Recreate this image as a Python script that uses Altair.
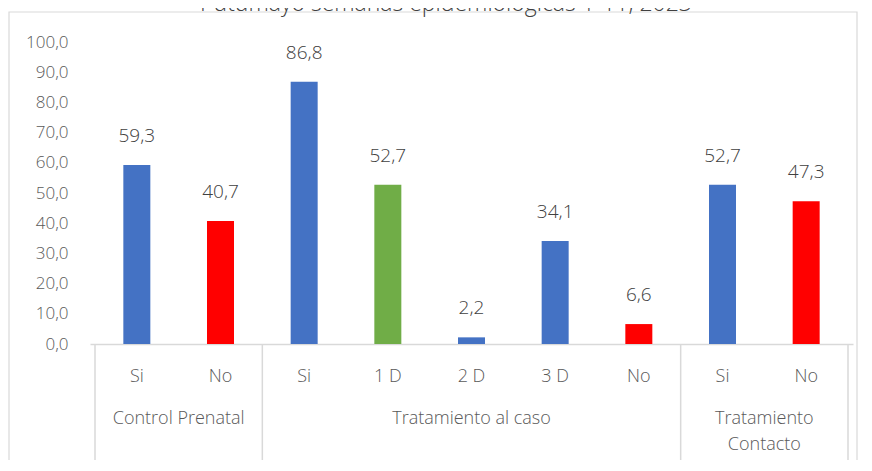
import altair as alt
import pandas as pd

title_text = "Putumayo semanas epidemiológicas 1-11, 2023"
groups = ["Control Prenatal", "Tratamiento al caso", "Tratamiento\nContacto"]
group_sizes = [2, 5, 2]
labels = ["Si", "No", "Si", "1 D", "2 D", "3 D", "No", "Si", "No"]
values = [59.3, 40.7, 86.8, 52.7, 2.2, 34.1, 6.6, 52.7, 47.3]
colors = ["#4472C4", "#FF0000", "#4472C4", "#70AD47", "#4472C4",
          "#4472C4", "#FF0000", "#4472C4", "#FF0000"]
y_ticks = [0, 10, 20, 30, 40, 50, 60, 70, 80, 90, 100]

FONT = "Open Sans"
W, H = 763, 302

n = len(labels)
bars = pd.DataFrame({
    "pos": [i + 0.5 for i in range(n)],
    "label": labels,
    "value": values,
    "color": colors,
})
bars["txt"] = [f"{v:.1f}".replace(".", ",") for v in values]

bounds = [0]
for s in group_sizes:
    bounds.append(bounds[-1] + s)
grp = pd.DataFrame({
    "center": [(bounds[i] + bounds[i + 1]) / 2 for i in range(len(groups))],
    "name": groups,
})
seps = pd.DataFrame({"b": bounds})

xs = alt.Scale(domain=[0, n], nice=False, zero=False)
ys = alt.Scale(domain=[0, 100], nice=False)
X_AX = alt.Axis(labels=False, ticks=False, grid=False, title=None,
                domainColor="#d9d9d9", domainWidth=1.5)
Y_AX = alt.Axis(values=y_ticks,
                labelExpr="replace(format(datum.value,'.1f'),'.',',')",
                labelOverlap=False, tickCount=11,
                domain=False, ticks=False, grid=False, title=None,
                labelColor="#595959", labelFontSize=17, labelFont=FONT,
                labelFontWeight=300, labelPadding=22)

base = alt.Chart(bars)

bar = base.mark_bar(size=27).encode(
    x=alt.X("pos:Q", scale=xs, axis=X_AX),
    y=alt.Y("value:Q", scale=ys, axis=Y_AX),
    color=alt.Color("color:N", scale=None),
)

vals = base.mark_text(baseline="middle", dy=-29, fontSize=19, font=FONT,
                      fontWeight=300, color="#404040").encode(
    x=alt.X("pos:Q", scale=xs, axis=X_AX),
    y=alt.Y("value:Q", scale=ys, axis=Y_AX), text="txt:N")

cats = base.mark_text(baseline="middle", fontSize=18, font=FONT,
                      fontWeight=300, color="#595959").encode(
    x=alt.X("pos:Q", scale=xs, axis=X_AX), y=alt.value(H + 33), text="label:N")

glab = alt.Chart(grp).mark_text(baseline="middle", fontSize=18, font=FONT,
                                fontWeight=300, color="#595959",
                                lineBreak="\n", lineHeight=26).encode(
    x=alt.X("center:Q", scale=xs, axis=X_AX), y=alt.value(H + 75), text="name:N")

sep = alt.Chart(seps).mark_rule(color="#d9d9d9", strokeWidth=1.5).encode(
    x=alt.X("b:Q", scale=xs, axis=X_AX), y=alt.value(H), y2=alt.value(H + 118))

frame = alt.Chart(pd.DataFrame({"t": [title_text]})).mark_rect(
    fill=None, stroke="#d9d9d9", strokeWidth=1.2).encode(
    x=alt.value(-81), x2=alt.value(767), y=alt.value(-30), y2=alt.value(460))

ttl = alt.Chart(pd.DataFrame({"t": [title_text]})).mark_text(
    baseline="alphabetic", fontSize=23, font=FONT, fontWeight=300,
    color="#404040").encode(
    x=alt.value(356), y=alt.value(-31), text="t:N")

chart = alt.layer(bar, frame, ttl, vals, sep, cats, glab).properties(
    width=W, height=H,
    autosize=alt.AutoSizeParams(type="none"),
    padding={"left": 82, "top": 34, "right": 6, "bottom": 116},
).configure_view(stroke=None)

chart.save("out.html", embed_options={"renderer": "svg", "actions": False})
